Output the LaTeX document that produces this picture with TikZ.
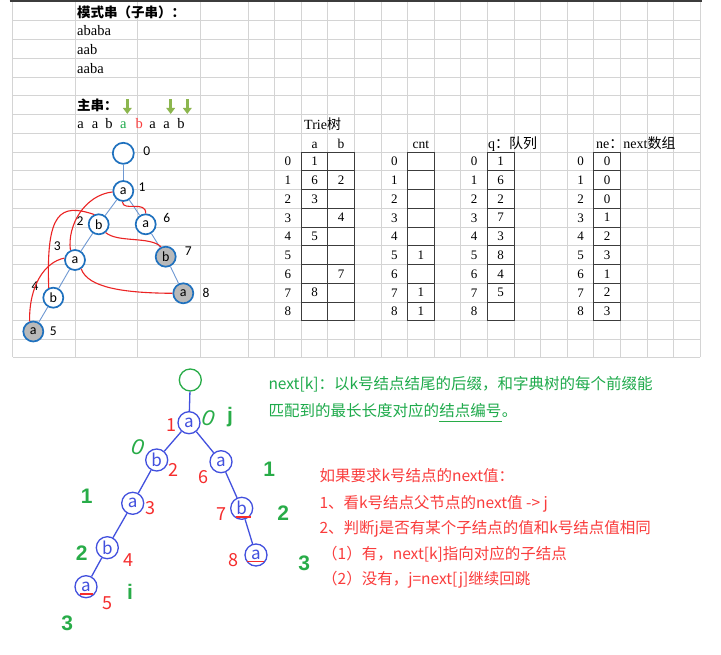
\documentclass[tikz,border=0pt]{standalone}
\usepackage{fontspec}
\setmainfont{Liberation Serif}
\newfontfamily\cjk{Noto Sans CJK SC}
\newfontfamily\calib{Carlito}
\newfontfamily\lsans{Liberation Sans}
\usetikzlibrary{positioning, arrows.meta}

\definecolor{xlblue}{RGB}{31,113,190}
\definecolor{xledge}{RGB}{110,152,210}
\definecolor{linkred}{RGB}{235,35,35}
\definecolor{gridgray}{RGB}{212,212,212}
\definecolor{tabdark}{RGB}{60,60,60}
\definecolor{arrgreen}{RGB}{140,182,78}
\definecolor{hlgreen}{RGB}{30,170,75}
\definecolor{hlred}{RGB}{250,60,60}
\definecolor{penblue}{RGB}{66,80,222}
\definecolor{pengreen}{RGB}{40,172,72}
\definecolor{penred}{RGB}{245,45,45}

\newcommand{\px}[1]{\fontsize{#1}{#1}\selectfont}

\begin{document}
\begin{tikzpicture}
  [x=1pt, y=1pt,
   gridline/.style={draw=gridgray, line width=0.8pt},
   sheet/.style={anchor=base west, inner sep=0pt, font=\px{14.5}},
   sheethead/.style={sheet, font=\cjk\bfseries\px{13.5}},
   head/.style={anchor=base, inner sep=0pt, font=\px{13.5}},
   cell/.style={draw=tabdark, line width=1pt, minimum width=26.6pt, minimum height=18.75pt, inner sep=0pt, font=\px{13}},
   rowlab/.style={inner sep=0pt, font=\px{13}},
   downarrow/.style={draw=arrgreen, line width=3pt, -{Triangle[width=8.5pt, length=6pt]}},
   xnode/.style={circle, draw=xlblue, line width=1.7pt, fill=white, minimum size=20pt, inner sep=0pt, font=\calib\px{14}},
   xleaf/.style={xnode, fill=gray!55},
   xnum/.style={inner sep=0pt, font=\calib\px{13.5}},
   xedge/.style={draw=xledge, line width=0.9pt},
   faillink/.style={draw=linkred, line width=1.1pt},
   pnode/.style={circle, draw=penblue, line width=1.3pt, minimum size=22pt, inner sep=0pt, text=penblue, font=\cjk\px{17}},
   pedge/.style={draw=penblue, line width=1.3pt},
   pnum/.style={inner sep=0pt, text=penred, font=\cjk\px{18}},
   pmark/.style={inner sep=0pt, text=pengreen, font=\lsans\bfseries\px{21}},
   pzero/.style={inner sep=0pt, text=pengreen, font=\lsans\itshape\px{22}},
   redmark/.style={draw=penred, line width=1.8pt},
   gtext/.style={anchor=base west, inner sep=0pt, text=hlgreen, font=\cjk\px{15.5}},
   rtext/.style={anchor=base west, inner sep=0pt, text=hlred, font=\cjk\px{15.5}}]

  \fill[white] (0,0) rectangle (721,-655);

  \foreach \x in {12.5,75,137.5,200,248}
    \draw[gridline] (\x,-2) -- (\x,-357);
  \foreach \k in {1,...,17}
    \draw[gridline] ({248+26.6*\k},-2) -- ({248+26.6*\k},-357);
  \foreach \k in {1,...,18}
    \draw[gridline] (12.5,{-2-18.75*\k}) -- (700.2,{-2-18.75*\k});
  \draw[gridline] (12.5,-357) -- (700.2,-357);
  \draw[tabdark, line width=2.2pt] (9.5,-1.1) -- (701.5,-1.1);

  \node[sheethead] (pat) at (77,-17.3) {模式串（子串）：};
  \node[sheet] (p1) at (77,-36) {ababa};
  \node[sheet] (p2) at (77,-54.75) {aab};
  \node[sheet] (p3) at (77,-73.5) {aaba};
  \node[sheethead] (txt) at (77,-111) {主串：};

  \foreach \ch/\x/\col [count=\i] in {a/80.7/black, a/95/black, b/109/black, a/123.3/hlgreen,
                                      b/139.3/hlred, a/152.7/black, a/166.7/black, b/181/black}
    \node[sheet, anchor=base, text=\col] (s\i) at (\x,-129) {\ch};

  \foreach \x [count=\i] in {127.3,170.7,187.3} {
    \coordinate (at\i) at (\x,-99.5);
    \coordinate (ah\i) at (\x,-114);
    \draw[downarrow] (at\i) -- (ah\i);
  }

  \node[sheet, font=\px{14}] (trie) at (304,-129.75) {Trie{\cjk 树}};
  \node[head] (ha) at (314.5,-148.5) {a};
  \node[head] (hb) at (341.1,-148.5) {b};
  \node[head] (hc) at (420.9,-148.5) {cnt};
  \node[sheet, font=\px{14}] (hq) at (488,-148.5) {q{\cjk ：队列}};
  \node[sheet, font=\px{14}] (hn) at (596,-148.5) {ne{\cjk ：}next{\cjk 数组}};

  \foreach \r/\va/\vb/\vc/\vq/\vn in {0/1///1/0, 1/6/2//6/0, 2/3///2/0, 3//4//7/1, 4/5///3/2,
                                     5///1/8/3, 6//7//4/1, 7/8//1/5/2, 8///1//3} {
    \node[rowlab] (tl\r) at (287.9,{-161.6-18.75*\r}) {\r};
    \node[cell] (ta\r) at (314.5,{-161.4-18.75*\r}) {\va};
    \node[cell] (tb\r) at (341.1,{-161.4-18.75*\r}) {\vb};
    \node[rowlab] (cl\r) at (394.3,{-161.6-18.75*\r}) {\r};
    \node[cell] (cn\r) at (420.9,{-161.4-18.75*\r}) {\vc};
    \node[rowlab] (ql\r) at (474.1,{-161.6-18.75*\r}) {\r};
    \node[cell] (qv\r) at (500.7,{-161.4-18.75*\r}) {\vq};
    \node[rowlab] (nl\r) at (580.5,{-161.6-18.75*\r}) {\r};
    \node[cell] (nv\r) at (607.1,{-161.4-18.75*\r}) {\vn};
  }

  \node[xnode, minimum size=21pt] (n0) at (123.3,-153.3) {};
  \node[xnode] (n1) at (123.3,-191) {a};
  \node[xnode] (n2) at (98.7,-224.3) {b};
  \node[xnode] (n6) at (145.7,-224.3) {a};
  \node[xnode] (n3) at (75,-260) {a};
  \node[xleaf] (n7) at (165.7,-256.7) {b};
  \node[xnode] (n4) at (53.3,-297.7) {b};
  \node[xleaf] (n8) at (183.3,-293.3) {a};
  \node[xleaf] (n5) at (33.3,-331.5) {a};

  \foreach \p/\c in {0/1,1/2,1/6,2/3,6/7,3/4,7/8,4/5}
    \draw[xedge] (n\p) -- (n\c);

  \node[xnum] (l0) at (146.7,-151) {0};
  \node[xnum] (l1) at (142,-187.3) {1};
  \node[xnum] (l2) at (80,-220.7) {2};
  \node[xnum] (l6) at (166.7,-218.3) {6};
  \node[xnum] (l3) at (57.3,-246) {3};
  \node[xnum] (l7) at (188.3,-250.7) {7};
  \node[xnum] (l4) at (35,-285.7) {4};
  \node[xnum] (l8) at (206,-293.3) {8};
  \node[xnum] (l5) at (53.3,-331.5) {5};

  \draw[faillink] (n3.115) .. controls (67,-225) and (85,-195) .. (n1.185);
  \draw[faillink] (n1.-95) .. controls (123,-212) and (146,-200) .. (n6.north);
  \draw[faillink] (n2.115) .. controls (60,-203) and (46,-212) .. (n4.115);
  \draw[faillink] (n2.-50) .. controls (118,-243) and (150,-236) .. (n7.115);
  \draw[faillink] (n3.170) .. controls (45,-262) and (29,-285) .. (n5.110);
  \draw[faillink] (n3.-55) .. controls (88,-288) and (125,-293) .. (n8.west);

  \node[pnode, draw=pengreen] (m0) at (190.3,-380) {};
  \node[pnode] (m1) at (189,-422.7) {a};
  \node[pnode] (m2) at (156.7,-460) {b};
  \node[pnode] (m6) at (221,-461.7) {a};
  \node[pnode] (m3) at (132.7,-503.3) {a};
  \node[pnode] (m7) at (241.7,-508.3) {b};
  \node[pnode] (m4) at (107.3,-547.7) {b};
  \node[pnode] (m8) at (256,-555) {a};
  \node[pnode] (m5) at (86,-586.7) {a};

  \foreach \p/\c in {0/1,1/2,1/6,2/3,6/7,3/4,7/8,4/5}
    \draw[pedge] (m\p) -- (m\c);

  \node[pnum] (k1) at (171,-425) {1};
  \node[pnum] (k2) at (173.3,-470) {2};
  \node[pnum] (k6) at (203.3,-477.3) {6};
  \node[pnum] (k3) at (150,-508.3) {3};
  \node[pnum] (k7) at (221.7,-514) {7};
  \node[pnum] (k4) at (128.3,-560) {4};
  \node[pnum] (k8) at (233.3,-560) {8};
  \node[pnum] (k5) at (107.7,-603.3) {5};

  \draw[redmark] ([xshift=-5.5pt, yshift=-8.5pt]m7.center) -- ([xshift=9pt, yshift=-8.5pt]m7.center);
  \draw[redmark, line width=1.2pt] ([xshift=-9pt, yshift=-6.5pt]m8.center) -- ([xshift=8pt, yshift=-6.5pt]m8.center);
  \draw[redmark] ([xshift=-6pt, yshift=-7.5pt]m5.center) -- ([xshift=7pt, yshift=-7.5pt]m5.center);

  \node[pzero, rotate=-10] (z1) at (208.3,-418.3) {0};
  \node[pzero, rotate=-10] (z2) at (137.7,-446.7) {0};
  \node[pmark] (vj) at (230,-417.3) {j};
  \node[pmark] (vi) at (130,-592.3) {i};
  \node[pmark] (r1) at (269.3,-469.3) {1};
  \node[pmark] (r2) at (283.3,-512.7) {2};
  \node[pmark] (r3) at (304.3,-563.3) {3};
  \node[pmark] (q1) at (86.7,-496.7) {1};
  \node[pmark] (q2) at (81.7,-552.7) {2};
  \node[pmark] (q3) at (67.3,-623.3) {3};

  \node[gtext] (g1) at (268.3,-389.5) {next[k]：以k号结点结尾的后缀，和字典树的每个前缀能};
  \node[gtext] (g2) at (268.3,-416) {匹配到的最长长度对应的};
  \node[gtext, right=0pt of g2.base east, anchor=base west] (g2b) {结点编号};
  \node[gtext, right=0pt of g2b.base east, anchor=base west] (g2c) {。};
  \draw[pengreen, line width=1.2pt] ([yshift=-5.5pt]g2b.base west) -- ([yshift=-5.5pt]g2b.base east);

  \node[rtext] (h0) at (319.3,-481.5) {如果要求k号结点的next值：};
  \node[rtext] (h1) at (319.3,-508) {1、看k号结点父节点的next值 -> j};
  \node[rtext] (h2) at (319.3,-533) {2、判断j是否有某个子结点的值和k号结点值相同};
  \node[rtext] (h3) at (322,-559.5) {（1）有，next[k]指向对应的子结点};
  \node[rtext] (h4) at (322,-584.5) {（2）没有，j=next[j]继续回跳};
\end{tikzpicture}
\end{document}
